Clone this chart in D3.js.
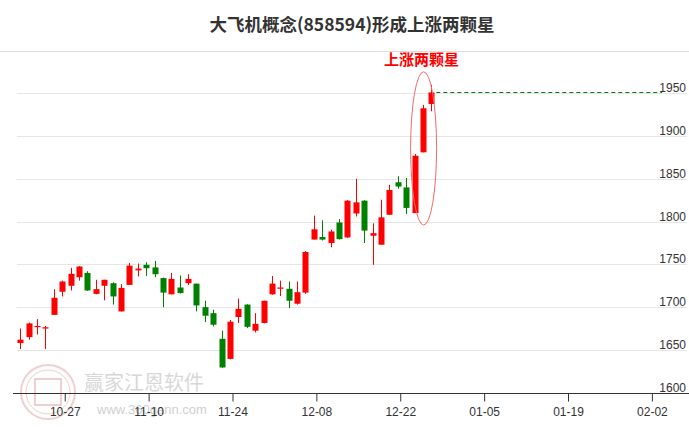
<!DOCTYPE html>
<html><head><meta charset="utf-8">
<script src="https://cdn.jsdelivr.net/npm/d3@7"></script>
<style>html,body{margin:0;padding:0;background:#fff;overflow:hidden}</style>
</head><body>
<svg id="c" width="689" height="427"></svg>
<script>
const titleText = "大飞机概念(858594)形成上涨两颗星";
const markText = "上涨两颗星";
const dates = ["10-20","10-21","10-22","10-23","10-24","10-27","10-28","10-29","10-30","10-31",
"11-03","11-04","11-05","11-06","11-07","11-10","11-11","11-12","11-13","11-14",
"11-17","11-18","11-19","11-20","11-21","11-24","11-25","11-26","11-27","11-28",
"12-01","12-02","12-03","12-04","12-05","12-08","12-09","12-10","12-11","12-12",
"12-15","12-16","12-17","12-18","12-19","12-22","12-23","12-24","12-25","12-26"];
const openV  = [1658,1665,1677,1675,1691,1718,1725,1735,1740,1715.5,1725,1728,1695,1726,1743,1749.5,1746.5,1734,1715,1723,1728,1727.5,1700,1693,1663,1639.5,1688.5,1703,1672.5,1681.5,1715,1721.5,1721.5,1704,1717,1779,1782,1775,1799,1781.5,1809.5,1824.5,1783.5,1773,1808,1846,1840,1810,1881,1937.5];
const highV  = [1675,1682,1686,1678,1721,1731,1746,1748,1742,1732,1732,1729,1727,1751.5,1751,1752.5,1754,1734.5,1740,1737,1738.5,1727.5,1707.5,1697,1672.5,1685,1710,1703.5,1693,1707.5,1736.5,1731,1730,1730,1765.5,1807,1801.5,1790.5,1803,1825,1850,1825,1798,1825.5,1843,1853,1851,1879,1936.5,1960];
const lowV   = [1651,1662,1668,1651,1691,1712.5,1719.5,1731,1719,1715,1708,1703,1695,1726,1736,1736.5,1735,1700,1715,1716,1726,1695,1682.5,1677.5,1629,1639,1681.5,1675.5,1670.5,1681,1714.5,1713,1699,1703,1715.5,1779,1778,1770,1779,1781,1806,1775,1749.5,1773,1808,1838.5,1809,1810,1881,1929];
const closeV = [1662,1681,1678,1676.5,1711,1730,1739,1747.5,1719.5,1721,1732,1712.5,1722.5,1748.5,1745,1745.5,1738.5,1717,1733,1716.5,1733,1702,1690,1679.5,1629.5,1683,1698,1677,1680.5,1707.5,1727.5,1723,1707.5,1717.5,1764.5,1791,1779,1788.5,1779.5,1824.5,1822.5,1789.5,1786.5,1805,1837,1841,1816,1877,1932.5,1951];
const tickIdx = [5,15,25,35,45,55,65,75];
const tickLabels = ["10-27","11-10","11-24","12-08","12-22","01-05","01-19","02-02"];
const yTicks = [1600,1650,1700,1750,1800,1850,1900,1950];

const svg = d3.select("#c");
const x = d3.scaleLinear().domain([0, 49]).range([20.3, 431.3]);
const y = d3.scaleLinear().domain([1600, 1950]).range([392.7, 93.3]);
const UP = "#ff0000", DOWN = "#008000";

// watermark
const wm = svg.append("g").attr("opacity", 0.55);
wm.append("circle").attr("cx", 48).attr("cy", 392).attr("r", 27).attr("fill", "none").attr("stroke", "#e3a9a9").attr("stroke-width", 2);
wm.append("circle").attr("cx", 48).attr("cy", 392).attr("r", 22).attr("fill", "none").attr("stroke", "#e3a9a9").attr("stroke-width", 1);
wm.append("rect").attr("x", 35).attr("y", 379).attr("width", 26).attr("height", 26).attr("fill", "none").attr("stroke", "#e3a9a9").attr("stroke-width", 2);
wm.append("text").attr("x", 84).attr("y", 390).attr("font-family", "Noto Sans CJK SC").attr("font-size", 20).attr("fill", "#b8b8b8").text("赢家江恩软件");
wm.append("text").attr("x", 97).attr("y", 414).attr("font-family", "Liberation Sans, Arial").attr("font-size", 13).attr("fill", "#a8a8a8").text("www.360gann.com");

// title
svg.append("text").attr("x", 352).attr("y", 31).attr("text-anchor", "middle")
  .attr("font-family", "Noto Sans CJK SC").attr("font-weight", "bold").attr("font-size", 17.5).attr("fill", "#333").text(titleText);
svg.append("line").attr("x1", 0).attr("x2", 689).attr("y1", 51.5).attr("y2", 51.5).attr("stroke", "#ddd");

// grid
svg.append("g").selectAll("line").data(yTicks.slice(1)).join("line")
  .attr("x1", 17).attr("x2", 687).attr("y1", d => Math.round(y(d)) + 0.5).attr("y2", d => Math.round(y(d)) + 0.5)
  .attr("stroke", "#e6e6e6");
svg.append("g").selectAll("text").data(yTicks).join("text")
  .attr("x", 686).attr("y", d => Math.round(y(d)) - 1.5).attr("text-anchor", "end")
  .attr("font-family", "Liberation Sans, Arial").attr("font-size", 12).attr("fill", "#333").text(d => d);

// x axis
const xAxis = d3.axisBottom(x).tickValues(tickIdx).tickFormat((d, i) => tickLabels[i]).tickSize(8).tickSizeOuter(0);
const ax = svg.append("g").attr("transform", "translate(2.5," + (Math.round(y(1600)) + 0.5) + ")").call(xAxis);
ax.select(".domain").attr("d", "M" + (13 - 2.5) + ",0H" + (689 - 2.5)).attr("stroke", "#333");
ax.selectAll(".tick line").attr("stroke", "#333");
ax.selectAll(".tick text").attr("font-family", "Liberation Sans, Arial").attr("font-size", 12).attr("fill", "#333").attr("dy", "0.95em");

// candles
const idx = d3.range(dates.length);
const cg = svg.append("g");
cg.selectAll("line").data(idx).join("line")
  .attr("x1", i => Math.round(x(i)) + 0.5).attr("x2", i => Math.round(x(i)) + 0.5)
  .attr("y1", i => y(highV[i])).attr("y2", i => y(lowV[i]))
  .attr("stroke", i => closeV[i] >= openV[i] ? UP : DOWN).attr("stroke-width", 1);
cg.selectAll("rect").data(idx).join("rect")
  .attr("x", i => Math.round(x(i)) - 2.5).attr("width", 6)
  .attr("y", i => y(Math.max(openV[i], closeV[i])))
  .attr("height", i => Math.max(1.2, Math.abs(y(openV[i]) - y(closeV[i]))))
  .attr("fill", i => closeV[i] >= openV[i] ? UP : DOWN);

// dashed last close line
const last = dates.length - 1;
svg.append("line").attr("x1", x(last) + 5).attr("x2", 662).attr("y1", Math.round(y(closeV[last])) + 0.5).attr("y2", Math.round(y(closeV[last])) + 0.5)
  .attr("stroke", DOWN).attr("stroke-dasharray", "4,3");

// ellipse highlighting last two
const ex = (x(last - 1) + x(last)) / 2 - 3.5;
const eTop = y(highV[last]) - 13, eBot = y(lowV[last - 2]) + 12;
svg.append("ellipse").attr("cx", ex).attr("cy", (eTop + eBot) / 2).attr("rx", 13).attr("ry", (eBot - eTop) / 2)
  .attr("fill", "none").attr("stroke", "#f46a6a").attr("stroke-width", 1);
svg.append("text").attr("x", ex - 2).attr("y", 65).attr("text-anchor", "middle")
  .attr("font-family", "Noto Sans CJK SC").attr("font-weight", "bold").attr("font-size", 15).attr("fill", "#ff0000").text(markText);
</script>
</body></html>
